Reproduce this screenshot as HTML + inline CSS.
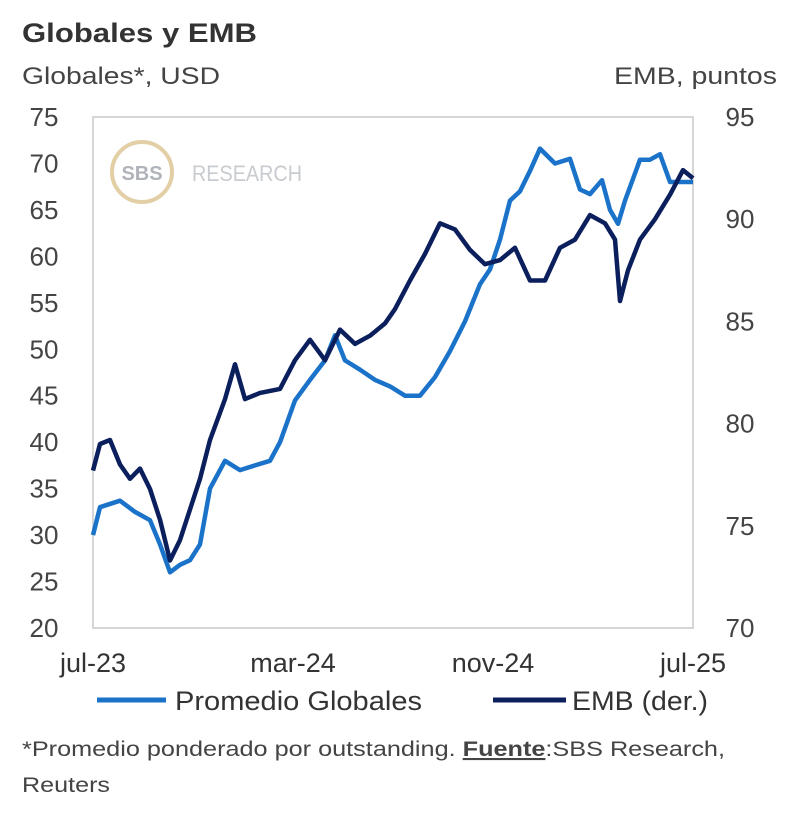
<!DOCTYPE html>
<html><head><meta charset="utf-8"><style>
html,body{margin:0;padding:0;background:#fff;}
svg{display:block;font-family:"Liberation Sans Narrow","Liberation Sans",sans-serif;}
</style></head><body>
<svg id="chart" width="800" height="815" viewBox="0 0 800 815">
<text x="22" y="42" font-size="27" font-weight="bold" fill="#333" textLength="235" lengthAdjust="spacingAndGlyphs" font-family="Liberation Sans, sans-serif">Globales y EMB</text>
<text x="22" y="84" font-size="24" fill="#444" textLength="198" lengthAdjust="spacingAndGlyphs">Globales*, USD</text>
<text x="777" y="84" font-size="24" fill="#444" text-anchor="end" textLength="163" lengthAdjust="spacingAndGlyphs">EMB, puntos</text>
<rect x="93" y="117" width="600" height="511" fill="none" stroke="#d6d6d6" stroke-width="2"/>
<g>
<circle cx="142" cy="172" r="30" fill="none" stroke="#e3cfa6" stroke-width="4"/>
<text x="142" y="180" font-size="20" font-weight="bold" fill="#b0b4ba" text-anchor="middle" font-family="Liberation Sans, sans-serif">SBS</text>
<text x="192" y="181" font-size="22" fill="#c8cbcf" textLength="110" lengthAdjust="spacingAndGlyphs">RESEARCH</text>
</g>
<g id="yl"></g>
<g id="yr"></g>
<g id="xa"></g>
<g id="series"></g>
<g>
<line x1="97" y1="700" x2="166" y2="700" stroke="#1a73c8" stroke-width="5"/>
<text x="175" y="710" font-size="27" fill="#333" textLength="247" lengthAdjust="spacingAndGlyphs">Promedio Globales</text>
<line x1="493" y1="700" x2="566" y2="700" stroke="#0b1f5c" stroke-width="5"/>
<text x="572" y="710" font-size="27" fill="#333" textLength="136" lengthAdjust="spacingAndGlyphs">EMB (der.)</text>
</g>
<text x="22" y="756" font-size="21" fill="#444" textLength="703" lengthAdjust="spacingAndGlyphs">*Promedio ponderado por outstanding. <tspan font-weight="bold" text-decoration="underline">Fuente</tspan>:SBS Research,</text>
<text x="22" y="792" font-size="21" fill="#444" textLength="88" lengthAdjust="spacingAndGlyphs">Reuters</text>
</svg>
<script>
const globMonths = [0,0.28,1.08,1.68,2.28,2.68,3.08,3.48,3.88,4.28,4.68,5.28,5.88,6.48,7.08,7.48,8.08,8.68,9.28,9.68,10.08,10.68,11.28,11.88,12.48,13.08,13.68,14.28,14.88,15.48,15.88,16.28,16.68,17.08,17.48,17.88,18.48,19.08,19.48,19.88,20.36,20.68,21.0,21.28,21.88,22.28,22.68,23.08,24];
const globValues = [30,33,33.7,32.5,31.6,29,26,26.8,27.3,29,35,38,37,37.5,38,40,44.5,46.7,48.8,51.5,48.8,47.8,46.7,46,45,45,47,49.8,53,57,58.6,61.8,66,67,69.2,71.6,70,70.5,67.2,66.7,68.2,65,63.5,66,70.4,70.4,71,68,68];
const embMonths = [0,0.28,0.68,1.08,1.48,1.88,2.28,2.68,3.08,3.48,3.88,4.28,4.68,5.28,5.68,6.08,6.68,7.48,8.08,8.68,9.28,9.88,10.48,11.08,11.68,12.08,12.68,13.28,13.88,14.48,15.08,15.68,16.28,16.88,17.48,18.08,18.68,19.28,19.88,20.48,20.88,21.08,21.4,21.88,22.48,23.08,23.6,24];
const embValues = [77.7,79,79.2,78,77.3,77.8,76.8,75.3,73.3,74.3,75.8,77.3,79.2,81.2,82.9,81.2,81.5,81.7,83.1,84.1,83.1,84.6,83.9,84.3,84.9,85.6,87,88.3,89.8,89.5,88.5,87.8,88,88.6,87,87,88.6,89,90.2,89.8,89,86,87.5,89,90,91.2,92.4,92];
const leftTicks = [20,25,30,35,40,45,50,55,60,65,70,75];
const rightTicks = [70,75,80,85,90,95];
const xTickMonths = [0,8,16,24];
const xTickLabels = ["jul-23","mar-24","nov-24","jul-25"];

const X0=93,X1=693,Y0=628,Y1=117;
const xS = m => X0 + (m/24)*(X1-X0);
const yL = v => Y0 - (v-20)/(75-20)*(Y0-Y1);
const yR = v => Y0 - (v-70)/(95-70)*(Y0-Y1);
const NS="http://www.w3.org/2000/svg";
function mk(tag, attrs, parent){const e=document.createElementNS(NS,tag);for(const k in attrs)e.setAttribute(k,attrs[k]);parent.appendChild(e);return e;}

const yl=document.getElementById('yl');
leftTicks.forEach(v=>{
  const t=mk('text',{x:44,y:yL(v)+9,'font-size':26,fill:'#444','text-anchor':'middle'},yl);
  
  
  t.textContent=v;
});
const yr=document.getElementById('yr');
rightTicks.forEach(v=>{
  const t=mk('text',{x:740,y:yR(v)+9,'font-size':26,fill:'#444','text-anchor':'middle'},yr);
  
  
  t.textContent=v;
});
const xa=document.getElementById('xa');
xTickMonths.forEach((m,i)=>{
  const t=mk('text',{x:xS(m),y:672,'font-size':27,fill:'#333','text-anchor':'middle'},xa);
  
  
  t.textContent=xTickLabels[i];
});
const sg=document.getElementById('series');
function line(ms, vs, ys, color, name){
  const d=ms.map((m,i)=>(i?'L':'M')+xS(m).toFixed(1)+','+ys(vs[i]).toFixed(1)).join('');
  const p=mk('path',{d:d,fill:'none',stroke:color,'stroke-width':4.5,'stroke-linejoin':'round'},sg);
  
  
}
line(globMonths,globValues,yL,'#1a73c8','line-promedio-globales');
line(embMonths,embValues,yR,'#0b1f5c','line-emb');
</script>
</body></html>
